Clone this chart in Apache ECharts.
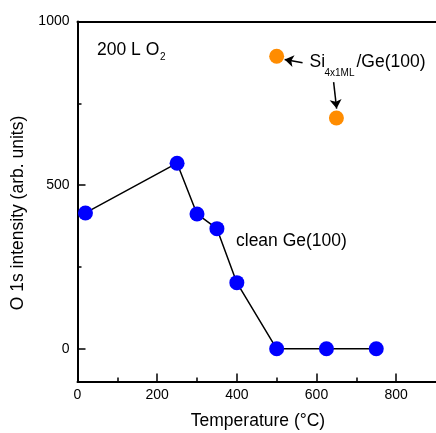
<!DOCTYPE html>
<html>
<head>
<meta charset="utf-8">
<script src="https://cdn.jsdelivr.net/npm/echarts@6/dist/echarts.min.js"></script>
<style>
  html, body { margin: 0; padding: 0; background: #fff; }
  #chart { width: 436px; height: 433px; }
</style>
</head>
<body>
<div id="chart"></div>
<script>
// O 1s intensity after 200 L O2 exposure versus annealing temperature
const cleanTemps = [20, 250, 300, 350, 400, 500, 625, 750];
const cleanIntensity = [415, 567, 412, 367, 202, 0, 0, 0];
const siTemps = [500, 650];
const siIntensity = [894, 705];

const xMajorTicks = [0, 200, 400, 600, 800];
const xMinorTicks = [100, 300, 500, 700];
const yMajorTicks = [0, 500, 1000];
const yMinorTicks = [250, 750];

// arrows pointing from the Si label to its two points: [from, to] in data units
const arrowFrom1 = [565, 874], arrowTo1 = [520, 884];
const arrowFrom2 = [643, 815], arrowTo2 = [650.5, 734];

const FONT = '"Liberation Sans", Arial, sans-serif';
const black = '#000';

const chart = echarts.init(document.getElementById('chart'), null, { renderer: 'canvas' });

function text(x, y, str, size, extra) {
  return Object.assign({
    type: 'text', x: x, y: y, silent: true,
    style: { text: str, font: size + 'px ' + FONT, fill: black, verticalAlign: 'middle', align: 'left' }
  }, extra || {});
}

const plain = v => String(v);

const option = {
  animation: false,
  backgroundColor: '#fff',
  grid: { left: 77.5, right: -1, top: 21.5, bottom: 51.5, containLabel: false },
  xAxis: [
    {
      type: 'value', position: 'bottom', min: 0, max: 900,
      axisLine: { show: true, onZero: false, lineStyle: { color: black, width: 2 } },
      axisTick: { show: true, inside: true, length: 8, customValues: xMajorTicks, lineStyle: { color: black, width: 1.5 } },
      axisLabel: { show: true, customValues: xMajorTicks, formatter: plain, margin: 7, fontSize: 14, fontFamily: FONT, color: black },
      splitLine: { show: false }
    },
    {
      type: 'value', position: 'bottom', min: 0, max: 900,
      axisLine: { show: false, onZero: false },
      axisTick: { show: true, inside: true, length: 4, customValues: xMinorTicks, lineStyle: { color: black, width: 1.5 } },
      axisLabel: { show: false },
      splitLine: { show: false }
    },
    {
      type: 'value', position: 'top', min: 0, max: 900,
      axisLine: { show: true, onZero: false, lineStyle: { color: black, width: 2 } },
      axisTick: { show: false }, axisLabel: { show: false }, splitLine: { show: false }
    }
  ],
  yAxis: [
    {
      type: 'value', position: 'left', min: -100, max: 1000,
      axisLine: { show: true, onZero: false, lineStyle: { color: black, width: 2 } },
      axisTick: { show: true, inside: true, length: 8, customValues: yMajorTicks, lineStyle: { color: black, width: 1.5 } },
      axisLabel: { show: true, customValues: yMajorTicks, formatter: plain, margin: 8, fontSize: 14, fontFamily: FONT, color: black },
      splitLine: { show: false }
    },
    {
      type: 'value', position: 'left', min: -100, max: 1000,
      axisLine: { show: false, onZero: false },
      axisTick: { show: true, inside: true, length: 4, customValues: yMinorTicks, lineStyle: { color: black, width: 1.5 } },
      axisLabel: { show: false },
      splitLine: { show: false }
    }
  ],
  series: [
    {
      name: 'clean Ge(100)', type: 'line',
      data: cleanTemps.map((t, i) => [t, cleanIntensity[i]]),
      symbol: 'circle', symbolSize: 15, showAllSymbol: true,
      lineStyle: { color: black, width: 1.5 },
      itemStyle: { color: '#0000ff', borderWidth: 0, opacity: 1 },
      z: 3
    },
    {
      name: 'Si4x1ML/Ge(100)', type: 'scatter',
      data: siTemps.map((t, i) => [t, siIntensity[i]]),
      symbol: 'circle', symbolSize: 15,
      itemStyle: { color: '#ff8c00', borderWidth: 0, opacity: 1 },
      z: 3,
      markLine: {
        silent: true, animation: false,
        symbol: ['none', 'arrow'], symbolSize: 9,
        label: { show: false },
        lineStyle: { color: black, width: 1.5, type: 'solid' },
        emphasis: { disabled: true },
        data: [
          [{ coord: arrowFrom1 }, { coord: arrowTo1 }],
          [{ coord: arrowFrom2 }, { coord: arrowTo2 }]
        ]
      }
    }
  ],
  graphic: [
    text(97, 50, '200 L O', 17.5),
    text(160, 57, '2', 10),
    text(309.5, 62, 'Si', 17.5),
    text(324.5, 73.5, '4x1ML', 10),
    text(356.5, 62, '/Ge(100)', 17.5),
    text(236, 241, 'clean Ge(100)', 17.5),
    {
      type: 'text', x: 18.5, y: 213, rotation: Math.PI / 2, silent: true,
      style: { text: 'O 1s intensity (arb. units)', font: '17.5px ' + FONT, fill: black, align: 'center', verticalAlign: 'middle' }
    },
    {
      type: 'text', x: 258, y: 421.5, silent: true,
      style: { text: 'Temperature (°C)', font: '17.5px ' + FONT, fill: black, align: 'center', verticalAlign: 'middle' }
    }
  ]
};

chart.setOption(option);
</script>
</body>
</html>
